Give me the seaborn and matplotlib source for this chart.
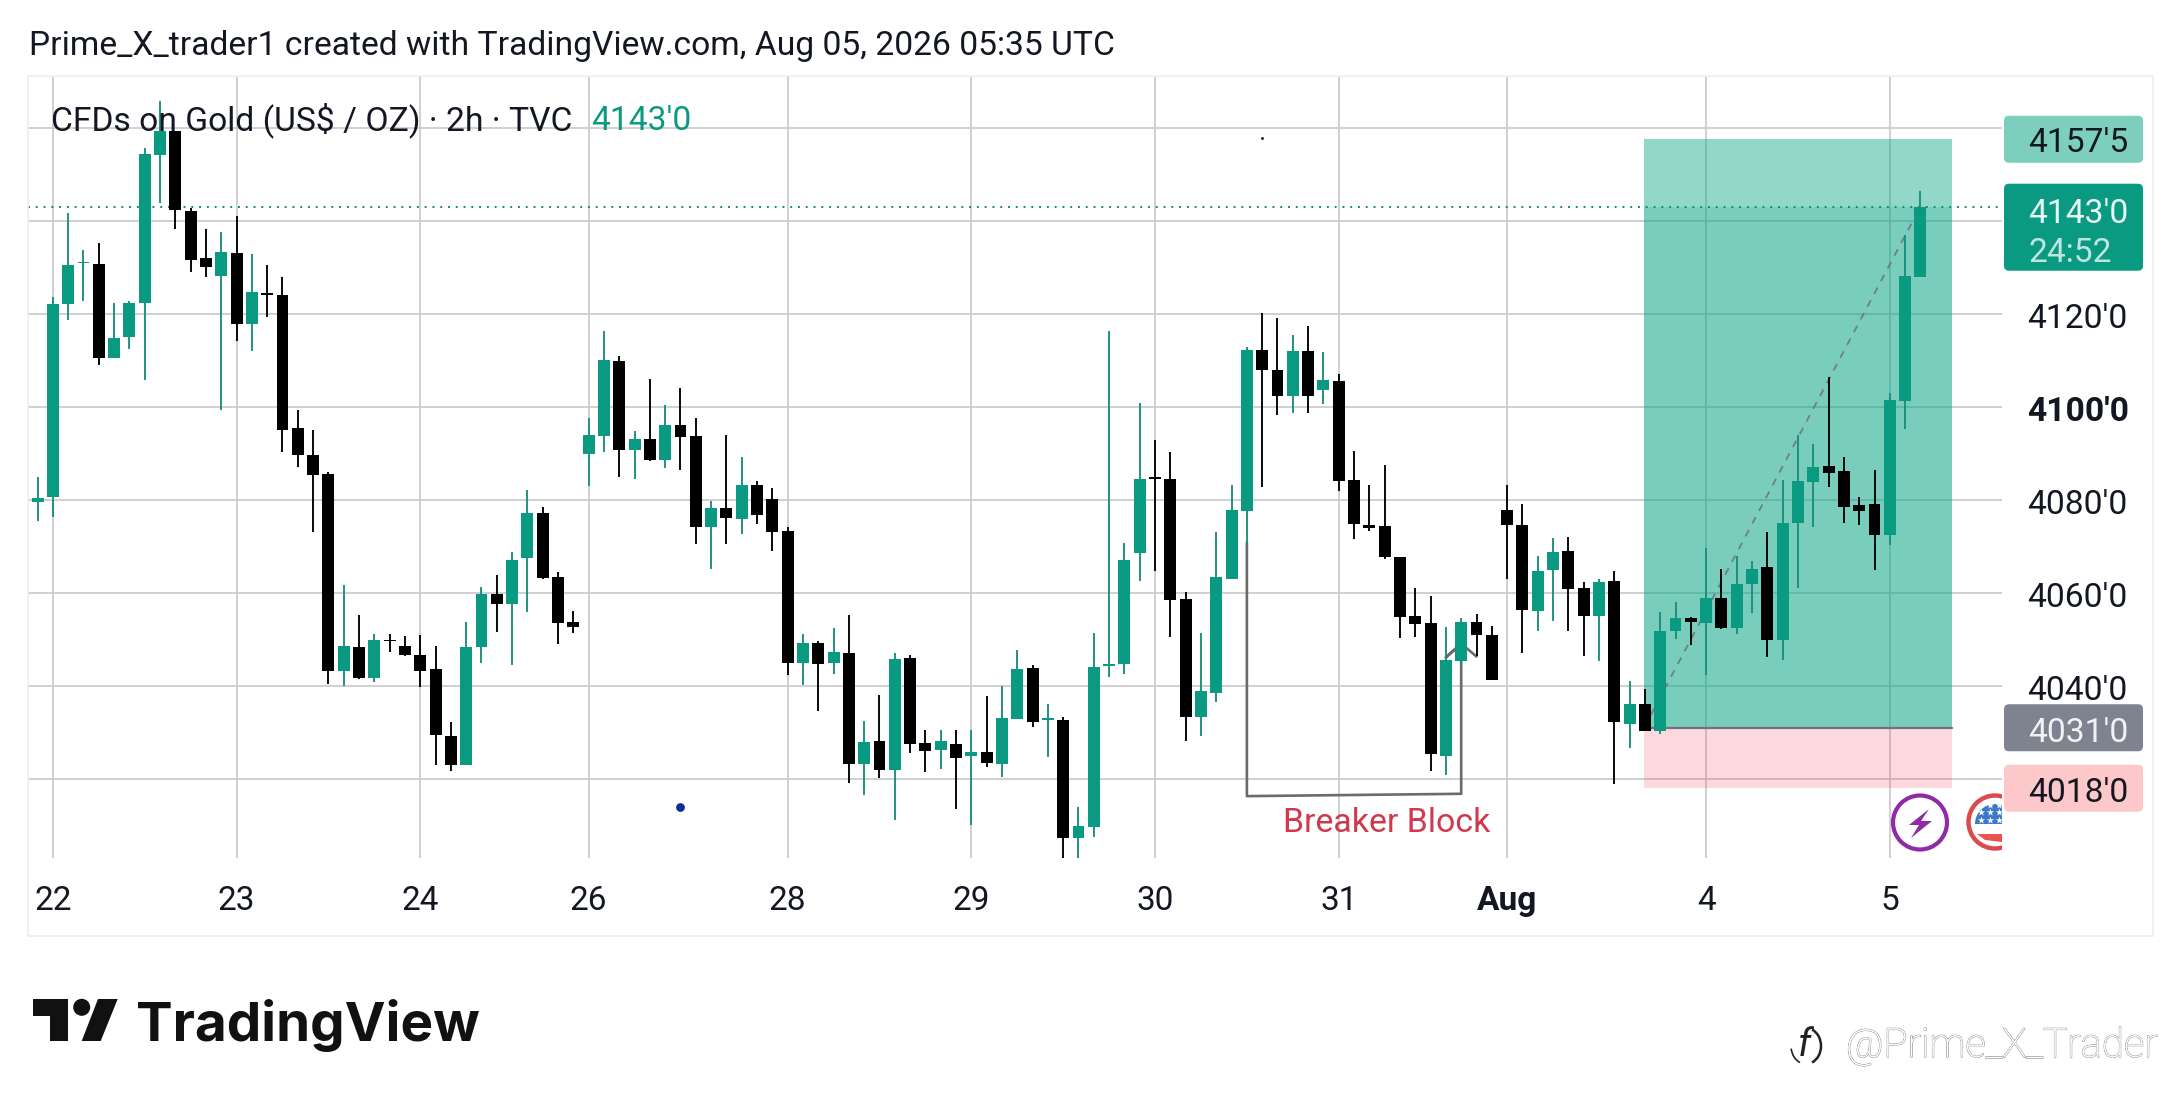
import matplotlib
matplotlib.use("Agg")
import matplotlib.pyplot as plt
import matplotlib.patheffects as pe
from matplotlib.patches import Circle, Rectangle, FancyBboxPatch, Polygon, Arc, Wedge
from matplotlib.transforms import ScaledTranslation
import pandas as pd
import seaborn as sns

# Candles, one value per 2h bar
opens = [4079.6, 4080.5, 4122.0, 4130.8, 4130.7, 4110.4, 4114.9, 4122.4, 4154.2, 4159.2, 4142.1, 4132.0,
         4128.2, 4133.0, 4117.7, 4124.4, 4124.0, 4095.4, 4089.6, 4085.6, 4043.1, 4048.4, 4041.6, 4049.8,
         4048.6, 4046.7, 4043.6, 4029.3, 4022.9, 4048.3, 4059.8, 4057.7, 4067.5, 4077.2, 4063.4, 4053.7,
         4089.9, 4093.8, 4109.9, 4090.7, 4093.1, 4088.5, 4096.1, 4093.7, 4074.1, 4078.3, 4075.9, 4083.2,
         4080.2, 4073.3, 4045.0, 4049.3, 4045.0, 4047.0, 4023.3, 4028.2, 4022.0, 4046.0, 4027.8, 4026.3,
         4027.5, 4024.9, 4025.8, 4023.1, 4032.9, 4043.8, 4032.7, 4032.7, 4007.2, 4009.7, 4044.2, 4044.6,
         4068.5, 4084.8, 4084.5, 4058.7, 4033.4, 4038.5, 4063.0, 4077.5, 4112.3, 4107.9, 4102.4, 4112.0,
         4103.5, 4105.5, 4084.3, 4074.6, 4074.4, 4067.6, 4055.0, 4053.5, 4025.0, 4045.4, 4053.8, 4051.0,
         4077.8, 4074.6, 4056.2, 4064.9, 4069.0, 4061.1, 4055.0, 4062.5, 4031.8, 4036.2, 4030.3, 4051.9,
         4054.6, 4053.5, 4058.8, 4052.4, 4061.8, 4065.6, 4049.9, 4075.0, 4083.8, 4087.3, 4086.1, 4078.8,
         4079.0, 4072.4, 4101.2, 4128.0]
closes = [4080.3, 4122.0, 4130.5, 4131.1, 4110.4, 4114.8, 4122.3, 4154.3, 4159.2, 4142.4, 4131.5, 4130.0,
          4133.3, 4117.7, 4124.7, 4124.1, 4095.1, 4089.7, 4085.4, 4043.1, 4048.6, 4041.6, 4049.9, 4049.6,
          4046.7, 4043.3, 4029.4, 4022.9, 4048.4, 4059.8, 4057.5, 4067.1, 4077.2, 4063.1, 4053.6, 4052.7,
          4094.0, 4110.0, 4090.7, 4093.1, 4088.5, 4096.1, 4093.6, 4074.1, 4078.3, 4076.1, 4083.2, 4076.7,
          4073.0, 4045.0, 4049.3, 4044.8, 4047.3, 4023.3, 4027.9, 4022.0, 4045.8, 4027.6, 4026.1, 4028.2,
          4024.6, 4025.7, 4023.5, 4033.1, 4043.6, 4032.3, 4033.1, 4007.2, 4009.9, 4044.1, 4044.6, 4067.1,
          4084.5, 4084.5, 4058.5, 4033.4, 4038.9, 4063.5, 4077.7, 4112.3, 4107.8, 4102.4, 4112.0, 4102.4,
          4105.8, 4084.1, 4074.9, 4074.0, 4067.6, 4054.9, 4053.4, 4025.4, 4045.6, 4053.8, 4051.0, 4041.2,
          4074.6, 4056.4, 4064.7, 4068.8, 4060.9, 4055.0, 4062.4, 4032.3, 4036.0, 4030.3, 4051.8, 4054.6,
          4053.7, 4058.8, 4052.4, 4061.9, 4065.1, 4049.9, 4075.1, 4084.0, 4087.1, 4085.7, 4078.4, 4077.6,
          4072.4, 4101.5, 4128.2, 4142.9]
highs = [4085.0, 4123.5, 4141.6, 4133.8, 4135.1, 4122.2, 4122.8, 4155.7, 4165.8, 4159.2, 4142.8, 4138.2,
         4137.5, 4140.9, 4132.9, 4130.4, 4128.0, 4099.3, 4095.1, 4086.0, 4061.7, 4055.2, 4051.2, 4051.2,
         4050.8, 4050.9, 4048.5, 4032.2, 4053.7, 4061.3, 4063.8, 4068.8, 4082.0, 4078.4, 4064.4, 4056.1,
         4097.6, 4116.3, 4111.0, 4094.8, 4106.0, 4100.4, 4104.1, 4097.6, 4079.7, 4094.0, 4089.2, 4084.0,
         4082.6, 4074.2, 4051.1, 4049.7, 4052.5, 4055.2, 4032.4, 4038.0, 4047.0, 4046.6, 4030.5, 4030.5,
         4030.5, 4030.5, 4037.9, 4040.0, 4047.7, 4044.5, 4036.1, 4033.3, 4014.0, 4051.4, 4116.3, 4070.8,
         4100.8, 4092.9, 4090.2, 4060.1, 4051.4, 4073.1, 4083.2, 4112.9, 4120.1, 4119.1, 4115.4, 4117.4,
         4111.8, 4107.0, 4090.4, 4083.1, 4087.4, 4067.6, 4061.1, 4059.3, 4052.7, 4054.5, 4055.5, 4052.8,
         4083.1, 4079.0, 4067.9, 4071.7, 4072.0, 4062.4, 4063.0, 4064.7, 4041.1, 4039.4, 4055.8, 4058.1,
         4054.9, 4069.6, 4065.2, 4068.0, 4066.9, 4073.0, 4084.3, 4094.0, 4092.0, 4106.5, 4089.3, 4080.5,
         4086.3, 4102.9, 4136.9, 4146.3]
lows = [4075.4, 4076.3, 4118.7, 4122.7, 4109.0, 4110.4, 4112.4, 4105.8, 4143.7, 4138.2, 4128.9, 4128.0,
        4099.2, 4114.1, 4111.9, 4119.2, 4090.2, 4087.0, 4073.0, 4040.3, 4040.0, 4041.4, 4040.8, 4047.2,
        4046.5, 4039.7, 4022.9, 4021.8, 4022.9, 4044.9, 4051.6, 4044.5, 4055.8, 4062.9, 4049.1, 4051.3,
        4083.0, 4090.3, 4085.0, 4084.4, 4088.4, 4086.9, 4086.3, 4070.4, 4065.2, 4070.4, 4072.7, 4074.9,
        4069.1, 4042.4, 4040.1, 4034.7, 4042.5, 4019.2, 4016.6, 4020.1, 4011.2, 4025.6, 4021.5, 4022.2,
        4013.6, 4010.0, 4022.6, 4020.4, 4032.9, 4031.2, 4024.8, 4003.0, 4003.0, 4007.6, 4042.0, 4042.6,
        4062.5, 4064.7, 4050.5, 4028.2, 4029.3, 4036.6, 4062.9, 4070.8, 4082.8, 4098.2, 4098.6, 4098.7,
        4100.6, 4081.8, 4071.6, 4073.2, 4067.3, 4050.2, 4050.6, 4021.8, 4020.9, 4044.4, 4046.5, 4041.2,
        4062.9, 4047.1, 4051.9, 4054.0, 4051.9, 4046.5, 4045.4, 4018.8, 4026.7, 4030.3, 4029.6, 4050.1,
        4048.7, 4042.4, 4052.2, 4051.1, 4055.6, 4046.1, 4045.5, 4061.0, 4074.1, 4082.8, 4075.1, 4074.5,
        4065.0, 4070.3, 4095.3, 4128.0]

day_bars = [1, 13, 25, 36, 49, 61, 73, 85, 96, 109, 121]
day_labels = ["22", "23", "24", "26", "28", "29", "30", "31", "Aug", "4", "5"]
price_ticks = [4020, 4040, 4060, 4080, 4100, 4120, 4140, 4160]
price_labels = ["", "4040'0", "4060'0", "4080'0", "4100'0", "4120'0", "", ""]

last_price = 4143.0
target_price = 4157.5
entry_price = 4031.0
stop_price = 4018.0

UP = "#0a9981"
BOX = "#07a483"
WICK_UP = "#1a8f7c"
DOWN = "#000000"
GRID = "#cbcbcb"
INK = "#131722"

sns.set_theme(style="whitegrid", rc={"axes.edgecolor": "none", "grid.color": GRID, "grid.linewidth": 1.25})
plt.rcParams["font.family"] = ["Roboto", "DejaVu Sans"]

W, H = 2181, 1106
fig = plt.figure(figsize=(W / 100, H / 100), dpi=100, facecolor="white")
ax = fig.add_axes([28 / W, 1 - 858 / H, (2002 - 28) / W, (858 - 76) / H])

df = pd.DataFrame({"bar": range(len(opens)), "open": opens, "high": highs, "low": lows, "close": closes})
df["bottom"] = df[["open", "close"]].min(axis=1)
df["height"] = (df["close"] - df["open"]).abs()
up = df[df["close"] >= df["open"]]
down = df[df["close"] < df["open"]]

# Long position box
box_x = [104.94, 125.06]
ax.fill_between(box_x, last_price, target_price, color=BOX, alpha=0.44, lw=0, zorder=1)
ax.fill_between(box_x, entry_price, last_price, color=BOX, alpha=0.54, lw=0, zorder=1)
ax.fill_between(box_x, stop_price, entry_price, color="#f23645", alpha=0.19, lw=0, zorder=1)
sns.lineplot(x=box_x, y=[entry_price, entry_price], color="#6f7380", lw=1.6, ax=ax, zorder=2)
sns.lineplot(x=[104.94, 123.0], y=[entry_price, last_price], color="#6f7f80", lw=1.3,
             linestyle=(0, (4, 4)), ax=ax, zorder=2, sort=False)

# Breaker block drawing
sns.lineplot(x=[79, 79, 93, 93, 92, 93, 94], y=[4070.8, 4016.3, 4016.8, 4049.1, 4046.1, 4049.1, 4046.3],
             color="#6b6b6b", lw=1.9, ax=ax, zorder=2.5, sort=False, estimator=None)

# Candles
ax.vlines(up["bar"], up["low"], up["high"], color=WICK_UP, lw=1.35, zorder=3)
ax.vlines(down["bar"], down["low"], down["high"], color=DOWN, lw=1.35, zorder=3)
sns.barplot(data=up, x="bar", y="height", bottom=up["bottom"].values, native_scale=True, width=0.78,
            color=UP, saturation=1, errorbar=None, linewidth=0, ax=ax, zorder=4)
sns.barplot(data=down, x="bar", y="height", bottom=down["bottom"].values, native_scale=True, width=0.78,
            color=DOWN, saturation=1, errorbar=None, linewidth=0, ax=ax, zorder=4)

ax.axhline(last_price, color="#0a8f78", lw=1.4, ls=(0, (1, 3)), zorder=2.8)
ax.scatter([42], [4014], s=40, color="#0d2f8f", zorder=5, linewidths=0)
ax.scatter([80], [4157.8], s=4, color="black", zorder=5, linewidths=0)
ax.text(88.15, 4010.6, "Breaker Block", color="#d0394d", fontsize=24.4, ha="center", va="center", zorder=6)

ax.set_xlim(1 - (52.86 - 28) / 15.308, 1 + (2002 - 52.86) / 15.308)
ax.set_ylim(4003.0, 4171.1)
ax.set_axisbelow(True)
ax.grid(True, color=GRID, lw=1.25)
ax.set_xlabel("")
ax.set_ylabel("")
ax.set_xticks(day_bars, day_labels)
ax.set_yticks(price_ticks, price_labels)
ax.yaxis.tick_right()
ax.tick_params(axis="x", length=0, pad=19.2, labelsize=24, labelcolor=INK)
ax.tick_params(axis="y", length=0, pad=18, labelsize=24.2, labelcolor=INK)
ax.get_xticklabels()[8].set_fontweight("bold")
ax.get_yticklabels()[4].set_fontweight("bold")
nudge = ScaledTranslation(0, -1.0 / 72, fig.dpi_scale_trans)
for lab in ax.get_yticklabels():
    lab.set_transform(lab.get_transform() + nudge)
sns.despine(ax=ax, left=True, right=True, top=True, bottom=True)

# Chrome around the chart, in image pixels
ov = fig.add_axes([0, 0, 1, 1], facecolor="none")
ov.set_xlim(0, W)
ov.set_ylim(H, 0)
ov.axis("off")
ov.add_patch(Rectangle((28, 76), 2125, 860, fill=False, ec="#eeeeee", lw=1.2))


def py(price):
    return H - ax.transData.transform((0, price))[1]


ov.text(29, 45.5, "Prime_X_trader1 created with TradingView.com, Aug 05, 2026 05:35 UTC",
        fontsize=24.2, color=INK, va="center")
ov.text(51, 120.5, "CFDs on Gold (US$ / OZ) · 2h · TVC", fontsize=24.2, color=INK, va="center")
ov.text(591, 120.5, "4143'0", fontsize=24.2, color=UP, va="center")


def price_box(y0, y1, color):
    ov.add_patch(FancyBboxPatch((2006, y0 + 2), 135, y1 - y0 - 4, boxstyle="round,pad=2,rounding_size=5",
                                fc=color, ec="none", zorder=3))


price_box(py(target_price) - 23.5, py(target_price) + 23.5, "#7ccfbd")
price_box(py(last_price) - 23, py(last_price) + 64, UP)
price_box(py(entry_price) - 23.5, py(entry_price) + 23.5, "#7f828f")
price_box(py(stop_price) - 23.5, py(stop_price) + 23.5, "#fdc8ca")
for price, txt, col, dy in [(target_price, "4157'5", INK, 4), (last_price, "4143'0", "#e8f6f3", 7),
                            (entry_price, "4031'0", "#f2f2f4", 5), (stop_price, "4018'0", INK, 5)]:
    ov.text(2028, py(price) + dy, txt, fontsize=24.2, color=col, va="center", zorder=4)
ov.text(2028, py(last_price) + 46, "24:52", fontsize=24.2, color="#bfe6de", va="center", zorder=4)

# Purple event badge
ov.add_patch(Circle((1920, 822.5), 27, fill=False, ec="#8e2ba6", lw=3))
ov.add_patch(Polygon([(1929, 809), (1909, 825), (1919, 825), (1911, 838), (1932, 821), (1921, 821)],
                     fc="#8e2ba6", ec="none"))

# Flag badge, cut off by the price scale
clip = Rectangle((1950, 780), 52, 80, transform=ov.transData)
flag = [Circle((1995, 822), 26.5, fill=False, ec="#dc4a4e", lw=3.2),
        Wedge((1995, 824), 20, 180, 360, fc="#3b78cc", ec="none"),
        Polygon([(1977, 834), (2002, 834), (2002, 842), (1985, 840)], fc="#ee5050", ec="none")]
for p in flag:
    ov.add_patch(p)
    p.set_clip_path(clip)
# Wedge angles run the other way on the flipped pixel axis, so the blue half sits on top
star_x = [1981, 1990, 1999, 1981, 1990, 1999, 1990, 1999]
star_y = [820, 820, 820, 812, 812, 812, 805, 805]
ov.scatter(star_x, star_y, marker="*", s=30, color="white", linewidths=0)

# TradingView logo
LOGO = "#111111"
ov.add_patch(Polygon([(33, 999), (68, 999), (68, 1041), (50, 1041), (50, 1016), (33, 1016)], fc=LOGO, ec="none"))
ov.add_patch(Circle((81.7, 1007.3), 8.5, fc=LOGO, ec="none"))
ov.add_patch(Polygon([(98, 999), (117.7, 999), (100.7, 1041), (81.7, 1041)], fc=LOGO, ec="none"))
ov.text(136, 1041, "TradingView", fontsize=39.5, fontweight="bold", color=LOGO, va="baseline",
        family=["Inter", "DejaVu Sans"])

# Watermark
ov.text(1846, 1057, "@Prime_X_Trader", fontsize=29, color="white", va="baseline", fontweight="light",
        path_effects=[pe.withStroke(linewidth=0.9, foreground="#8c8c8c"), pe.Normal()])
ov.add_patch(Arc((1806, 1046), 30, 36, theta1=-70, theta2=70, ec="#222222", lw=1.8))
ov.add_patch(Arc((1806, 1046), 30, 36, theta1=110, theta2=170, ec="#222222", lw=1.2))
ov.text(1804, 1046, "f", fontsize=28, color="#222222", va="center", ha="center", style="italic")

fig.savefig("out.png", dpi=100, facecolor="white")
